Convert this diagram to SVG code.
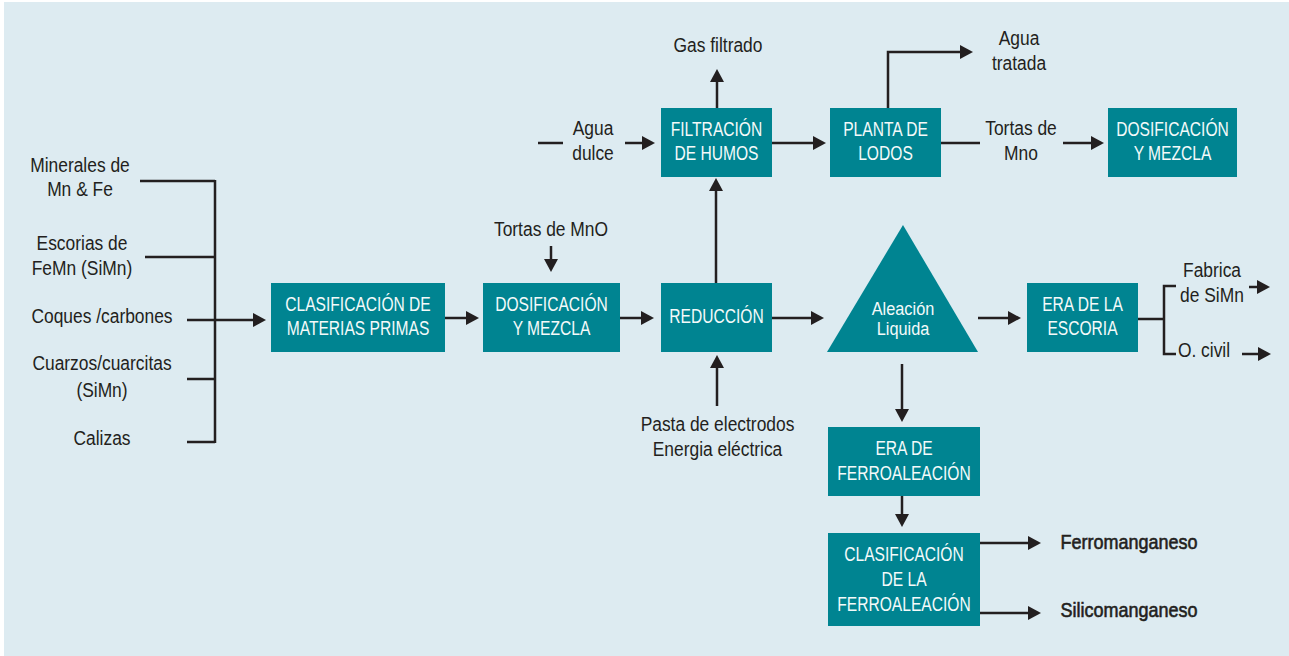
<svg xmlns="http://www.w3.org/2000/svg" width="1289" height="656" viewBox="0 0 1289 656">
<style>
.bg{fill:#DDEBF1}
.box{fill:#008491}
.ln{fill:none;stroke:#231F20;stroke-width:2.5}
.ar{marker-end:url(#ah)}
text{font-family:"Liberation Sans",Arial,sans-serif;text-anchor:middle;transform-box:fill-box;transform-origin:center}
.lbl{font-size:20px;fill:#231F20;transform:scaleX(0.87)}
.bold{stroke:#231F20;stroke-width:0.6;transform:scaleX(0.9)}
.bt{font-size:20px;fill:#F4FAFA;transform:scaleX(0.78)}
.tt{font-size:19px;fill:#F4FAFA;transform:scaleX(0.86)}
</style>
<defs>
<marker id="ah" viewBox="0 0 13 14" refX="9" refY="7" markerWidth="13" markerHeight="14" markerUnits="userSpaceOnUse" orient="auto">
<path d="M0,0 L13,7 L0,14 z" fill="#231F20"/>
</marker>
</defs>
<rect x="0" y="0" width="1289" height="656" fill="#FFFFFF"/>
<rect class="bg" x="4" y="2" width="1285" height="654"/>

<g id="connectors">
<path class="ln" d="M140,181 H215 M145,257 H215 M187,379 H215 M187,442 H215 M215,180 V443"/>
<path class="ln ar" d="M187,320 H262"/>
<path class="ln ar" d="M445,318 H475"/>
<path class="ln ar" d="M551,246 V268"/>
<path class="ln ar" d="M620,318 H650"/>
<path class="ln ar" d="M772,318 H820"/>
<path class="ln ar" d="M716,283 V182"/>
<path class="ln ar" d="M717,406 V359"/>
<path class="ln ar" d="M717,108 V73"/>
<path class="ln" d="M538,143 H563"/>
<path class="ln ar" d="M625,143 H651"/>
<path class="ln ar" d="M772,143 H822"/>
<path class="ln ar" d="M888,108 V52 H969"/>
<path class="ln" d="M941,143 H980"/>
<path class="ln ar" d="M1063,143 H1100"/>
<path class="ln ar" d="M978,318 H1017"/>
<path class="ln" d="M1138,319 H1164 M1176,286 H1164 V354 H1176"/>
<path class="ln ar" d="M1249,287 H1266"/>
<path class="ln ar" d="M1242,354 H1267"/>
<path class="ln ar" d="M902,364 V418"/>
<path class="ln ar" d="M902,496 V523"/>
<path class="ln ar" d="M980,543 H1037"/>
<path class="ln ar" d="M980,613 H1037"/>
</g>

<g id="inputs">
<text class="lbl" x="80" y="172">Minerales de</text>
<text class="lbl" x="80" y="196">Mn &amp; Fe</text>
<text class="lbl" x="82" y="250">Escorias de</text>
<text class="lbl" x="82" y="275">FeMn (SiMn)</text>
<text class="lbl" x="102" y="323">Coques /carbones</text>
<text class="lbl" x="102" y="370">Cuarzos/cuarcitas</text>
<text class="lbl" x="102" y="397">(SiMn)</text>
<text class="lbl" x="102" y="445">Calizas</text>
</g>

<g id="clasificacion-mp">
<rect class="box" x="271" y="283" width="174" height="69"/>
<text class="bt" x="358" y="311">CLASIFICACIÓN DE</text>
<text class="bt" x="358" y="335">MATERIAS PRIMAS</text>
</g>

<g id="tortas-mno">
<text class="lbl" x="551" y="236">Tortas de MnO</text>
</g>

<g id="dosificacion-1">
<rect class="box" x="483" y="283" width="137" height="69"/>
<text class="bt" x="551.5" y="311">DOSIFICACIÓN</text>
<text class="bt" x="551.5" y="335">Y MEZCLA</text>
</g>

<g id="reduccion">
<rect class="box" x="661" y="283" width="111" height="69"/>
<text class="bt" x="716.5" y="323">REDUCCIÓN</text>
</g>

<g id="pasta">
<text class="lbl" x="717.5" y="431">Pasta de electrodos</text>
<text class="lbl" x="717.5" y="456">Energia eléctrica</text>
</g>

<g id="filtracion">
<rect class="box" x="661" y="108" width="111" height="69"/>
<text class="bt" x="716.5" y="136">FILTRACIÓN</text>
<text class="bt" x="716.5" y="160">DE HUMOS</text>
</g>

<g id="gas-filtrado">
<text class="lbl" x="718" y="52">Gas filtrado</text>
</g>

<g id="agua-dulce">
<text class="lbl" x="593" y="135">Agua</text>
<text class="lbl" x="593" y="160">dulce</text>
</g>

<g id="planta-lodos">
<rect class="box" x="830" y="108" width="111" height="69"/>
<text class="bt" x="885.5" y="136">PLANTA DE</text>
<text class="bt" x="885.5" y="160">LODOS</text>
</g>

<g id="agua-tratada">
<text class="lbl" x="1019" y="45">Agua</text>
<text class="lbl" x="1019" y="70">tratada</text>
</g>

<g id="tortas-mno-2">
<text class="lbl" x="1021" y="135">Tortas de</text>
<text class="lbl" x="1021" y="160">Mno</text>
</g>

<g id="dosificacion-2">
<rect class="box" x="1108" y="108" width="129" height="69"/>
<text class="bt" x="1172.5" y="136">DOSIFICACIÓN</text>
<text class="bt" x="1172.5" y="160">Y MEZCLA</text>
</g>

<g id="aleacion-liquida">
<polygon class="box" points="903,225 978,352 827,352"/>
<text class="tt" x="903" y="315">Aleación</text>
<text class="tt" x="903" y="335">Liquida</text>
</g>

<g id="era-escoria">
<rect class="box" x="1027" y="283" width="111" height="69"/>
<text class="bt" x="1082.5" y="311">ERA DE LA</text>
<text class="bt" x="1082.5" y="335">ESCORIA</text>
</g>

<g id="fabrica-simn">
<text class="lbl" x="1212" y="277">Fabrica</text>
<text class="lbl" x="1212" y="302">de SiMn</text>
</g>

<g id="o-civil">
<text class="lbl" x="1204" y="357">O. civil</text>
</g>

<g id="era-ferroaleacion">
<rect class="box" x="828" y="427" width="152" height="69"/>
<text class="bt" x="904" y="455">ERA DE</text>
<text class="bt" x="904" y="480">FERROALEACIÓN</text>
</g>

<g id="clasificacion-ferro">
<rect class="box" x="828" y="533" width="152" height="93"/>
<text class="bt" x="904" y="561">CLASIFICACIÓN</text>
<text class="bt" x="904" y="586">DE LA</text>
<text class="bt" x="904" y="611">FERROALEACIÓN</text>
</g>

<g id="ferromanganeso">
<text class="lbl bold" x="1129" y="549">Ferromanganeso</text>
</g>

<g id="silicomanganeso">
<text class="lbl bold" x="1129" y="617">Silicomanganeso</text>
</g>
</svg>
